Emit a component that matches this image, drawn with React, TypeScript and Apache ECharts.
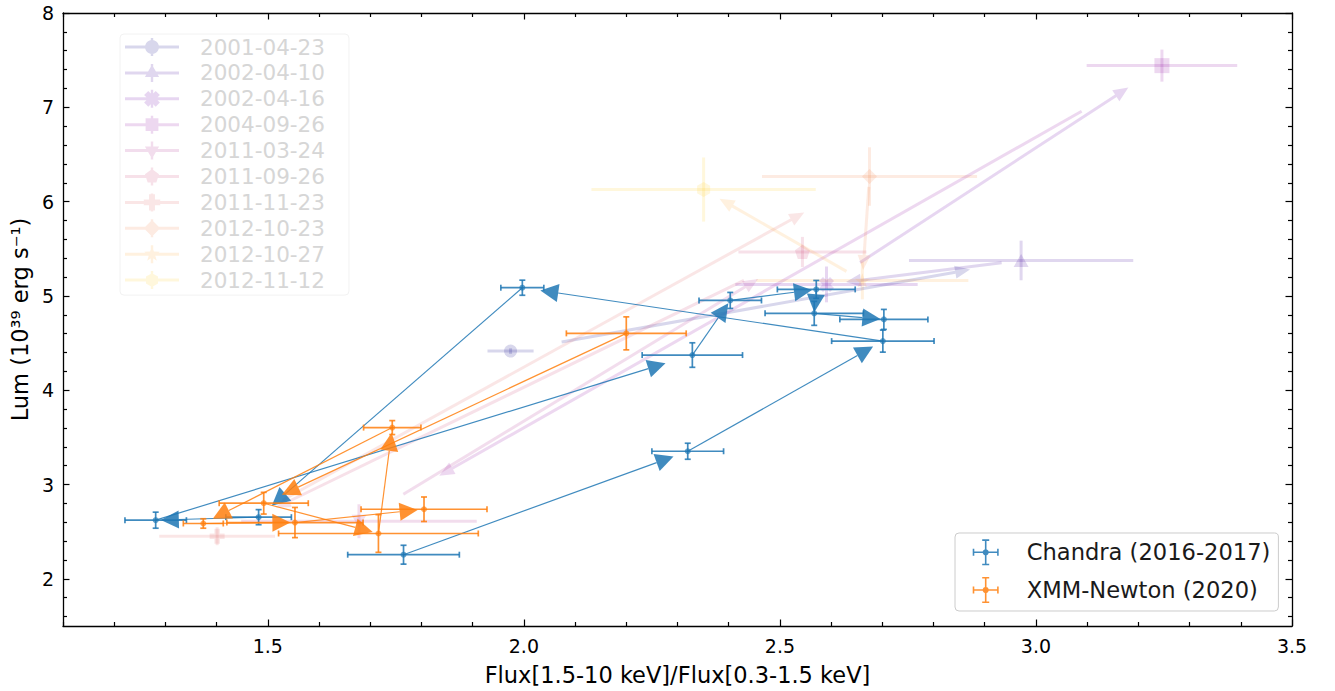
import React, { useEffect, useRef } from 'react';
import * as echarts from 'echarts';

const FONT = 'DejaVu Sans';

// axis tick labels
const xTickValues = [1.5, 2.0, 2.5, 3.0, 3.5];
const yTickValues = [2, 3, 4, 5, 6, 7, 8];

// Chandra (2016-2017), chronological order
const chandraX = [1.765, 2.320, 2.701, 1.997, 1.482, 1.281, 2.329, 2.403, 2.571, 2.567, 2.703];
const chandraY = [2.256, 3.353, 4.521, 5.087, 2.654, 2.622, 4.373, 4.952, 5.069, 4.815, 4.751];
const chandraXErr = [0.109, 0.070, 0.100, 0.042, 0.064, 0.060, 0.098, 0.061, 0.076, 0.096, 0.086];
const chandraYErr = [0.100, 0.085, 0.117, 0.080, 0.080, 0.085, 0.130, 0.085, 0.095, 0.127, 0.106];

// XMM-Newton (2020), chronological order
const xmmX = [2.200, 1.492, 1.716, 1.743, 1.374, 1.553, 1.805];
const xmmY = [4.603, 2.802, 2.481, 3.604, 2.587, 2.597, 2.738];
const xmmXErr = [0.117, 0.087, 0.195, 0.056, 0.039, 0.133, 0.123];
const xmmYErr = [0.175, 0.115, 0.200, 0.074, 0.050, 0.160, 0.130];

// historical observations (faded)
const histDates = ['2001-04-23', '2002-04-10', '2002-04-16', '2004-09-26', '2011-03-24', '2011-09-26', '2011-11-23', '2012-10-23', '2012-10-27', '2012-11-12'];
const histX = [1.974, 2.971, 2.591, 3.246, 1.678, 2.544, 1.401, 2.675, 2.661, 2.351];
const histY = [4.415, 5.376, 5.122, 7.442, 2.611, 5.466, 2.452, 6.266, 5.164, 6.128];
const histXErr = [0.045, 0.219, 0.178, 0.147, 0.230, 0.125, 0.113, 0.210, 0.207, 0.219];
const histYErr = [0.030, 0.210, 0.190, 0.170, 0.180, 0.160, 0.095, 0.310, 0.200, 0.340];
const histMarkers = ['circle', 'triangle', 'x', 'square', 'triangleDown', 'pentagon', 'plus', 'diamond', 'star', 'hexagon'];
const histColors = ['#0d0887', '#41049d', '#6a00a8', '#8f0da4', '#b12a90', '#cc4778', '#e16462', '#f2844b', '#fca636', '#fcce25'];

const BLUE = 'rgba(31,119,180,0.85)';
const ORANGE = 'rgba(255,127,14,0.85)';
const HIST_ALPHA = 0.16;

function faded(hex: string, a: number) {
  const n = parseInt(hex.slice(1), 16);
  return `rgba(${(n >> 16) & 255},${(n >> 8) & 255},${n & 255},${a})`;
}

function shapePts(kind: string, cx: number, cy: number, r: number): number[][] {
  const poly = (n: number, rot: number, rr = r) =>
    Array.from({ length: n }, (_, i) => {
      const a = rot + (i * 2 * Math.PI) / n;
      return [cx + rr * Math.cos(a), cy + rr * Math.sin(a)];
    });
  const plus = (rot: number) => {
    const t = r * 0.36;
    const base = [[-t, -r], [t, -r], [t, -t], [r, -t], [r, t], [t, t], [t, r], [-t, r], [-t, t], [-r, t], [-r, -t], [-t, -t]];
    const c = Math.cos(rot), s = Math.sin(rot);
    return base.map(([x, y]) => [cx + x * c - y * s, cy + x * s + y * c]);
  };
  switch (kind) {
    case 'circle': return poly(24, 0, r * 0.85);
    case 'triangle': return poly(3, -Math.PI / 2);
    case 'triangleDown': return poly(3, Math.PI / 2);
    case 'square': { const h = r * 0.78; return [[cx - h, cy - h], [cx + h, cy - h], [cx + h, cy + h], [cx - h, cy + h]]; }
    case 'diamond': return poly(4, -Math.PI / 2);
    case 'pentagon': return poly(5, -Math.PI / 2, r * 0.9);
    case 'hexagon': return poly(6, -Math.PI / 2, r * 0.85);
    case 'plus': return plus(0);
    case 'x': return plus(Math.PI / 4);
    case 'star': {
      const pts: number[][] = [];
      for (let i = 0; i < 10; i++) {
        const a = -Math.PI / 2 + (i * Math.PI) / 5;
        const rr = i % 2 === 0 ? r : r * 0.4;
        pts.push([cx + rr * Math.cos(a), cy + rr * Math.sin(a)]);
      }
      return pts;
    }
    default: return poly(24, 0);
  }
}

function toPath(pts: number[][]) {
  return 'M' + pts.map((p) => p[0].toFixed(2) + ',' + p[1].toFixed(2)).join(' L') + ' Z';
}

function histSymbol(kind: string) {
  if (kind === 'circle') return 'circle';
  return 'path://' + toPath(shapePts(kind, 0, 0, 1));
}

function histLegendIcon(kind: string) {
  return 'path://M0,7.5 L54,7.5 L54,10.5 L0,10.5 Z M25.8,0 L28.2,0 L28.2,18 L25.8,18 Z ' + toPath(shapePts(kind, 27, 9, 8.2));
}

const errLegendIcon =
  'path://M0,12.2 L26,12.2 L26,13.8 L0,13.8 Z M12.2,0 L13.8,0 L13.8,26 L12.2,26 Z ' +
  'M0,9.5 L1.6,9.5 L1.6,16.5 L0,16.5 Z M24.4,9.5 L26,9.5 L26,16.5 L24.4,16.5 Z ' +
  'M9.5,0 L16.5,0 L16.5,1.6 L9.5,1.6 Z M9.5,24.4 L16.5,24.4 L16.5,26 L9.5,26 Z ' +
  toPath(shapePts('circle', 13, 13, 3.6));

function errRender(color: string | string[], lw: number, cap: number) {
  return (params: any, api: any) => {
    const x = api.value(0), y = api.value(1), xe = api.value(2), ye = api.value(3);
    const l = api.coord([x - xe, y]);
    const r = api.coord([x + xe, y]);
    const t = api.coord([x, y + ye]);
    const b = api.coord([x, y - ye]);
    const c = Array.isArray(color) ? color[params.dataIndex] : color;
    const style = { stroke: c, lineWidth: lw, fill: null };
    const children: any[] = [
      { type: 'line', shape: { x1: l[0], y1: l[1], x2: r[0], y2: r[1] }, style },
      { type: 'line', shape: { x1: b[0], y1: b[1], x2: t[0], y2: t[1] }, style },
    ];
    if (cap > 0) {
      children.push(
        { type: 'line', shape: { x1: l[0], y1: l[1] - cap, x2: l[0], y2: l[1] + cap }, style },
        { type: 'line', shape: { x1: r[0], y1: r[1] - cap, x2: r[0], y2: r[1] + cap }, style },
        { type: 'line', shape: { x1: t[0] - cap, y1: t[1], x2: t[0] + cap, y2: t[1] }, style },
        { type: 'line', shape: { x1: b[0] - cap, y1: b[1], x2: b[0] + cap, y2: b[1] }, style },
      );
    }
    return { type: 'group', children };
  };
}

function arrowRender(color: string | string[], lw: number, f0: number, f1: number, headLen: number, headW: number) {
  return (params: any, api: any) => {
    const p0 = api.coord([api.value(0), api.value(1)]);
    const p1 = api.coord([api.value(2), api.value(3)]);
    const dx = p1[0] - p0[0], dy = p1[1] - p0[1];
    const len = Math.hypot(dx, dy) || 1;
    const ux = dx / len, uy = dy / len;
    const s = [p0[0] + dx * f0, p0[1] + dy * f0];
    const tip = [p0[0] + dx * f1, p0[1] + dy * f1];
    const hl = Math.min(headLen, len * (f1 - f0));
    const base = [tip[0] - ux * hl, tip[1] - uy * hl];
    const px = -uy, py = ux, hw = headW / 2;
    const c = Array.isArray(color) ? color[params.dataIndex] : color;
    return {
      type: 'group',
      children: [
        { type: 'line', shape: { x1: s[0], y1: s[1], x2: base[0], y2: base[1] }, style: { stroke: c, lineWidth: lw, fill: null } },
        { type: 'polygon', shape: { points: [tip, [base[0] + px * hw, base[1] + py * hw], [base[0] - px * hw, base[1] - py * hw]] }, style: { fill: c, stroke: null } },
      ],
    };
  };
}

function errRows(xs: number[], ys: number[], xe: number[], ye: number[]) {
  return xs.map((x, i) => [x, ys[i], xe[i], ye[i]]);
}
function arrowRows(xs: number[], ys: number[]) {
  const rows: number[][] = [];
  for (let i = 0; i < xs.length - 1; i++) rows.push([xs[i], ys[i], xs[i + 1], ys[i + 1]]);
  return rows;
}

const xMinor: number[] = [];
for (let k = 11; k <= 35; k++) if (k % 5 !== 0) xMinor.push(k / 10);
const yMinor: number[] = [];
for (let k = 8; k <= 40; k++) if (k % 5 !== 0) yMinor.push(k / 5);

export default function App() {
  const ref = useRef<HTMLDivElement>(null);
  useEffect(() => {
    if (!ref.current) return;
    const chart = echarts.init(ref.current, null, { renderer: 'svg' });
    const histFaded = histColors.map((c) => faded(c, HIST_ALPHA));
    const spine = { show: true, onZero: false, lineStyle: { color: '#000', width: 1.3 } };
    const tickStyle = { color: '#000', width: 1.2 };
    const mkX = (pos: 'top' | 'bottom', major: boolean) => ({
      type: 'value', min: 1.1, max: 3.5, position: pos, gridIndex: 0,
      axisLine: major ? spine : { show: false },
      axisTick: { show: true, inside: true, length: major ? 6.5 : 4, customValues: major ? xTickValues : xMinor, lineStyle: tickStyle },
      axisLabel: major && pos === 'bottom'
        ? { show: true, customValues: xTickValues, formatter: (v: number) => v.toFixed(1), fontSize: 19, fontFamily: FONT, color: '#000', margin: 10 }
        : { show: false },
      splitLine: { show: false },
      ...(major && pos === 'bottom' ? { name: 'Flux[1.5-10 keV]/Flux[0.3-1.5 keV]', nameLocation: 'middle', nameGap: 37, nameTextStyle: { fontSize: 22.5, fontFamily: FONT, color: '#000' } } : {}),
    });
    const mkY = (pos: 'left' | 'right', major: boolean) => ({
      type: 'value', min: 1.5, max: 8, position: pos, gridIndex: 0,
      axisLine: major ? spine : { show: false },
      axisTick: { show: true, inside: true, length: major ? 6.5 : 4, customValues: major ? yTickValues : yMinor, lineStyle: tickStyle },
      axisLabel: major && pos === 'left'
        ? { show: true, customValues: yTickValues, formatter: (v: number) => String(v), fontSize: 19, fontFamily: FONT, color: '#000', margin: 9 }
        : { show: false },
      splitLine: { show: false },
      ...(major && pos === 'left' ? { name: 'Lum (10³⁹ erg s⁻¹)', nameLocation: 'middle', nameGap: 30, nameRotate: 90, nameTextStyle: { fontSize: 22.5, fontFamily: FONT, color: '#000' } } : {}),
    });

    const histScatter = histDates.map((d, i) => ({
      type: 'scatter', name: d, z: 3,
      symbol: histSymbol(histMarkers[i]), symbolKeepAspect: true,
      symbolSize: histMarkers[i] === 'circle' ? 13 : 15,
      itemStyle: { color: histFaded[i], opacity: 1 },
      data: [[histX[i], histY[i]]],
      xAxisIndex: 0, yAxisIndex: 0,
    }));

    const option: any = {
      animation: false,
      textStyle: { fontFamily: FONT },
      grid: { left: 62, right: 43, top: 13, bottom: 64, containLabel: false },
      xAxis: [mkX('bottom', true), mkX('bottom', false), mkX('top', true), mkX('top', false)],
      yAxis: [mkY('left', true), mkY('left', false), mkY('right', true), mkY('right', false)],
      legend: [
        {
          orient: 'vertical', left: 120, top: 34, itemWidth: 54, itemHeight: 18, itemGap: 3.9,
          padding: [2, 24, 4, 5], selectedMode: false,
          borderColor: '#f2f2f2', borderWidth: 1, borderRadius: 4,
          textStyle: { fontFamily: FONT, fontSize: 21.5, color: '#d6d6d6', padding: [0, 0, 0, 16] },
          data: histDates.map((d, i) => ({ name: d, icon: histLegendIcon(histMarkers[i]), itemStyle: { color: histFaded[i], borderWidth: 0 } })),
        },
        {
          orient: 'vertical', left: 955, top: 533, itemWidth: 26, itemHeight: 26, itemGap: 11.7,
          padding: [6.3, 8, 8, 17.7], selectedMode: false,
          borderColor: '#cccccc', borderWidth: 1, borderRadius: 4, backgroundColor: 'rgba(255,255,255,0.8)',
          textStyle: { fontFamily: FONT, fontSize: 22.6, color: '#1a1a1a', lineHeight: 26, padding: [0, 0, 0, 23] },
          data: [
            { name: 'Chandra (2016-2017)', icon: errLegendIcon, itemStyle: { color: BLUE, borderWidth: 0 } },
            { name: 'XMM-Newton (2020)', icon: errLegendIcon, itemStyle: { color: ORANGE, borderWidth: 0 } },
          ],
        },
      ],
      series: [
        { type: 'custom', name: 'hist-err', z: 1, renderItem: errRender(histFaded, 3, 0), data: errRows(histX, histY, histXErr, histYErr), xAxisIndex: 0, yAxisIndex: 0 },
        { type: 'custom', name: 'hist-arrows', z: 2, renderItem: arrowRender(histFaded.slice(0, -1), 3, 0.1, 0.9, 15, 13), data: arrowRows(histX, histY), xAxisIndex: 0, yAxisIndex: 0 },
        ...histScatter,
        { type: 'custom', name: 'Chandra (2016-2017)', z: 4, renderItem: errRender(BLUE, 1.7, 3), data: errRows(chandraX, chandraY, chandraXErr, chandraYErr), xAxisIndex: 0, yAxisIndex: 0 },
        { type: 'scatter', name: 'Chandra (2016-2017)', z: 5, symbol: 'circle', symbolSize: 6, itemStyle: { color: BLUE }, data: chandraX.map((x, i) => [x, chandraY[i]]), xAxisIndex: 0, yAxisIndex: 0 },
        { type: 'custom', name: 'chandra-arrows', z: 6, renderItem: arrowRender(BLUE, 1.2, 0, 0.95, 18, 18), data: arrowRows(chandraX, chandraY), xAxisIndex: 0, yAxisIndex: 0 },
        { type: 'custom', name: 'XMM-Newton (2020)', z: 7, renderItem: errRender(ORANGE, 1.7, 3), data: errRows(xmmX, xmmY, xmmXErr, xmmYErr), xAxisIndex: 0, yAxisIndex: 0 },
        { type: 'scatter', name: 'XMM-Newton (2020)', z: 8, symbol: 'circle', symbolSize: 6, itemStyle: { color: ORANGE }, data: xmmX.map((x, i) => [x, xmmY[i]]), xAxisIndex: 0, yAxisIndex: 0 },
        { type: 'custom', name: 'xmm-arrows', z: 9, renderItem: arrowRender(ORANGE, 1.2, 0, 0.95, 18, 18), data: arrowRows(xmmX, xmmY), xAxisIndex: 0, yAxisIndex: 0 },
      ],
    };
    chart.setOption(option);
    return () => chart.dispose();
  }, []);
  return <div ref={ref} style={{ position: 'absolute', left: 0, top: 0, width: 1335, height: 691, background: '#fff' }} />;
}
